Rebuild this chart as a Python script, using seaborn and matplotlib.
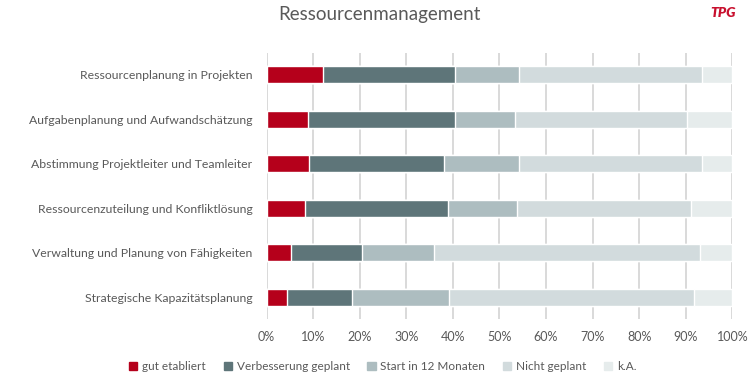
import numpy as np
import pandas as pd
import seaborn as sns
import matplotlib.pyplot as plt

# --- Data (share of answers in %) ---
categories = [
    "Ressourcenplanung in Projekten",
    "Aufgabenplanung und Aufwandschätzung",
    "Abstimmung Projektleiter und Teamleiter",
    "Ressourcenzuteilung und Konfliktlösung",
    "Verwaltung und Planung von Fähigkeiten",
    "Strategische Kapazitätsplanung",
]
series_names = ["gut etabliert", "Verbesserung geplant", "Start in 12 Monaten",
                "Nicht geplant", "k.A."]
gut_etabliert = [12.2, 8.9, 9.2, 8.3, 5.2, 4.3]
verbesserung_geplant = [28.2, 31.5, 28.8, 30.6, 15.2, 14.0]
start_12_monate = [13.7, 12.9, 16.3, 14.9, 15.6, 20.9]
nicht_geplant = [39.5, 36.9, 39.3, 37.4, 57.1, 52.6]
keine_angabe = [6.4, 9.8, 6.4, 8.8, 6.9, 8.2]

colors = ["#B5001B", "#5E7579", "#ADBDC0", "#D2DBDD", "#E6ECEC"]
text_color = "#595959"

df = pd.DataFrame({
    "Thema": categories,
    series_names[0]: gut_etabliert,
    series_names[1]: verbesserung_geplant,
    series_names[2]: start_12_monate,
    series_names[3]: nicht_geplant,
    series_names[4]: keine_angabe,
})

# cumulative sums so each layer can be drawn over the previous one
cum = df[series_names].cumsum(axis=1)

sns.set_theme(style="white")
plt.rcParams["font.family"] = ["Lato", "DejaVu Sans"]

fig = plt.figure(figsize=(7.52, 3.78), dpi=100)
ax = fig.add_axes([0.3544, 0.155, 0.6194, 0.706])

ax.grid(axis="x", color="#D9D9D9", linewidth=1.4, zorder=0)
ax.set_axisbelow(True)

# widest layer first, red layer last so it ends up on top
for name, col in reversed(list(zip(series_names, colors))):
    sns.barplot(x=cum[name], y=df["Thema"], color=col, orient="h",
                width=0.38, saturation=1, edgecolor="white", linewidth=1.0,
                ax=ax, zorder=2)

ax.set_xlim(0, 100)
ax.set_ylim(5.5, -0.5)
ax.set_xticks(np.arange(0, 101, 10))
ax.set_xticklabels([f"{v}%" for v in range(0, 101, 10)])
ax.set_xlabel("")
ax.set_ylabel("")
ax.tick_params(axis="x", labelsize=9, colors=text_color, length=0, pad=8)
ax.tick_params(axis="y", labelsize=8.8, colors=text_color, length=0, pad=10)
for s in ax.spines.values():
    s.set_visible(False)

leg_handles = [plt.Rectangle((0, 0), 1, 1, color=c) for c in colors]
fig.legend(leg_handles, series_names, loc="lower center", ncol=5,
           bbox_to_anchor=(0.509, -0.012), frameon=False, fontsize=8.5,
           handlelength=0.7, handleheight=0.7, handletextpad=0.4,
           columnspacing=1.5, labelcolor=text_color)

fig.text(0.505, 0.962, "Ressourcenmanagement", ha="center", va="center",
         fontsize=13.5, color=text_color)
fig.text(0.962, 0.965, "TPG", ha="center", va="center", fontsize=10,
         color="#C8102E", fontweight="heavy", style="italic")

fig.savefig("out.png", dpi=100)
